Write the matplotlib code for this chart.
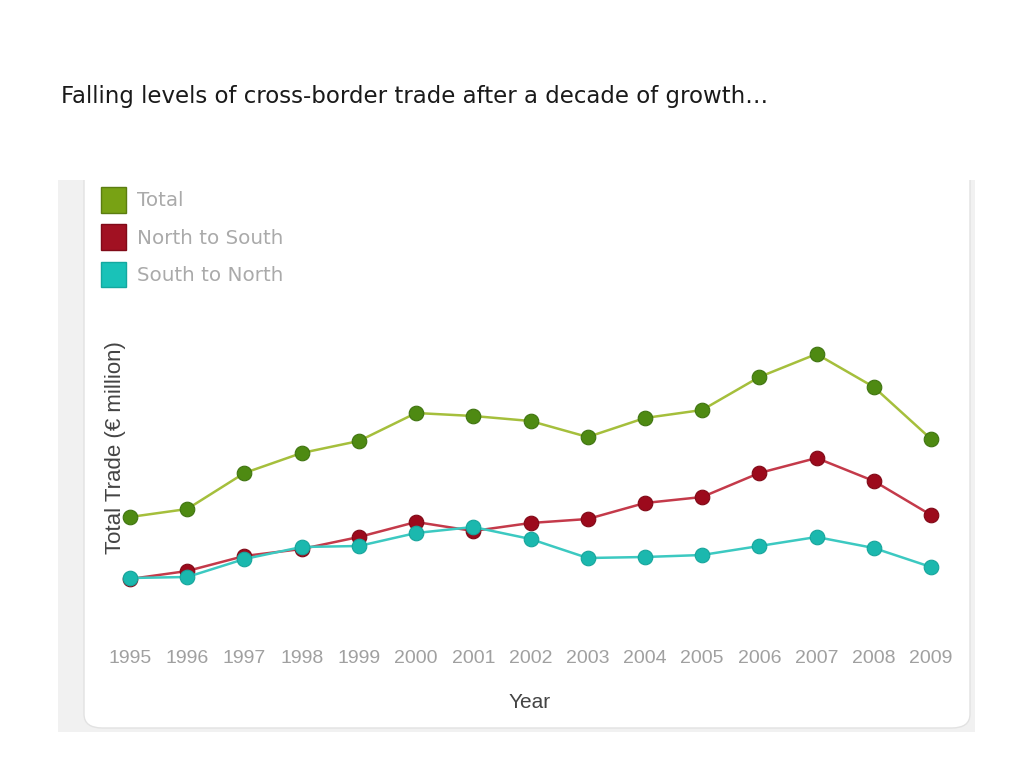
import matplotlib
matplotlib.use("Agg")
import matplotlib.pyplot as plt
from matplotlib.patches import Rectangle, FancyBboxPatch, Patch

years = [1995, 1996, 1997, 1998, 1999, 2000, 2001, 2002, 2003, 2004, 2005, 2006, 2007, 2008, 2009]
total = [1230, 1310, 1670, 1870, 1990, 2270, 2240, 2190, 2030, 2220, 2300, 2630, 2860, 2530, 2010]
north_to_south = [610, 690, 840, 910, 1030, 1180, 1090, 1170, 1210, 1370, 1430, 1670, 1820, 1590, 1250]
south_to_north = [620, 630, 810, 930, 940, 1070, 1130, 1010, 820, 830, 850, 940, 1030, 920, 730]
series_labels = ["Total", "North to South", "South to North"]

W, H = 1024, 768
fig = plt.figure(figsize=(W / 100, H / 100), dpi=100)
fig.patch.set_facecolor("white")

def fx(px):
    return px / W

def fy(py):
    return 1 - py / H

# Title
fig.text(fx(61), fy(97), "Falling levels of cross-border trade after a decade of growth\u2026",
         fontsize=16.5, color="#1a1a1a", family="DejaVu Sans", va="center", ha="left")

# Panel background
fig.add_artist(Rectangle((fx(58), fy(732)), fx(975 - 58), (732 - 180) / H,
                         transform=fig.transFigure, facecolor="#f1f1f1", edgecolor="none", zorder=0))
fig.add_artist(FancyBboxPatch((fx(84), fy(728)), fx(970 - 84), (728 - 140) / H,
                              boxstyle="round,pad=0,rounding_size=0.018",
                              transform=fig.transFigure, facecolor="white",
                              edgecolor="#e2e2e2", linewidth=1.0, zorder=1))
fig.add_artist(Rectangle((fx(40), fy(180)), fx(960), (180 - 120) / H,
                         transform=fig.transFigure, facecolor="white", edgecolor="none", zorder=2))

# Axes: 1995 -> px 130, 2009 -> px 931 ; value 0 -> py 640, 3000 -> py 340
ax_left, ax_right = 100, 960
ax_top, ax_bottom = 340, 640
ax = fig.add_axes([fx(ax_left), fy(ax_bottom), fx(ax_right - ax_left), (ax_bottom - ax_top) / H], zorder=3)
ax.patch.set_visible(False)
step = (931 - 130) / 14
ax.set_xlim(1995 - (130 - ax_left) / step, 2009 + (ax_right - 931) / step)
ax.set_ylim(0, 3000)

styles = [
    (total, "#a5bf3c", "#4e8a12", "#3f7410"),
    (north_to_south, "#c43a4a", "#9c0a1c", "#800816"),
    (south_to_north, "#3cc9c1", "#1bb8ae", "#17a59c"),
]
for (vals, lc, mc, mec), lab in zip(styles, series_labels):
    ax.plot(years, vals, color=lc, lw=1.8, marker="o", markersize=10.5,
            markerfacecolor=mc, markeredgecolor=mec, markeredgewidth=0.8, label=lab)

for s in ax.spines.values():
    s.set_visible(False)
ax.set_yticks([])
ax.set_xticks(years)
ax.set_xticklabels([str(y) for y in years])
ax.tick_params(axis="x", length=0, pad=7, labelsize=14, labelcolor="#a0a0a0")
for t in ax.get_xticklabels():
    t.set_family("Liberation Sans")

fig.text(fx(530), fy(702), "Year", fontsize=15, color="#444444",
         family="Liberation Sans", ha="center", va="center")
fig.text(fx(115), fy(448), "Total Trade (\u20ac million)", fontsize=16, color="#444444",
         family="Liberation Sans", rotation=90, ha="center", va="center")

# Legend
handles = [Patch(facecolor="#78a214", edgecolor="#5b7d10", linewidth=1.0),
           Patch(facecolor="#a11122", edgecolor="#800a18", linewidth=1.0),
           Patch(facecolor="#19c2b8", edgecolor="#14a89f", linewidth=1.0)]
leg = fig.legend(handles, series_labels, loc="upper left",
                 bbox_to_anchor=(fx(101), fy(187)), bbox_transform=fig.transFigure,
                 frameon=False, fontsize=14.3, handlelength=1.28, handleheight=1.6,
                 labelspacing=0.6, handletextpad=0.55, borderpad=0, borderaxespad=0)
for t in leg.get_texts():
    t.set_color("#aaaaaa")
leg.set_zorder(4)

fig.savefig("out.png", dpi=100)
